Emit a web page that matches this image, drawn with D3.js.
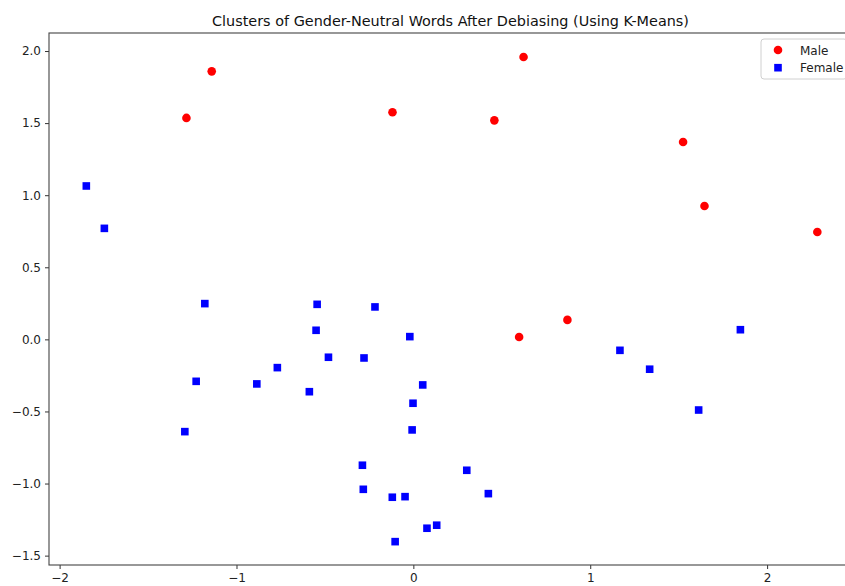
<!DOCTYPE html>
<html>
<head>
<meta charset="utf-8">
<script src="https://cdn.jsdelivr.net/npm/d3@7"></script>
<style>
  body { margin: 0; background: #fff; }
  svg { display: block; font-family: "DejaVu Sans", sans-serif; }
</style>
</head>
<body>
<div id="scatter"></div>
<script>
// Cluster points (after debiasing, K-Means)
var maleX = [-1.140, -1.283, -0.118, 0.458, 0.623, 1.525, 1.646, 2.284, 0.871, 0.598];
var maleY = [1.859, 1.536, 1.575, 1.519, 1.959, 1.369, 0.925, 0.745, 0.135, 0.016];

var femaleX = [-1.849, -1.747, -1.179, -0.544, -0.550, -0.480, -0.769, -1.228, -0.885, -0.588,
  -1.292, -0.217, -0.020, -0.279, 0.053, -0.002, -0.007, -0.288, -0.283, -0.119,
  -0.047, 0.302, 0.424, 0.077, 0.132, -0.103, 1.168, 1.336, 1.849, 1.613];
var femaleY = [1.064, 0.770, 0.248, 0.243, 0.063, -0.124, -0.196, -0.291, -0.309, -0.363,
  -0.640, 0.225, 0.019, -0.129, -0.316, -0.443, -0.628, -0.873, -1.040, -1.095,
  -1.091, -0.908, -1.070, -1.310, -1.289, -1.403, -0.076, -0.207, 0.067, -0.490];

var xTicks = [-2, -1, 0, 1, 2];
var yTicks = [-1.5, -1.0, -0.5, 0.0, 0.5, 1.0, 1.5, 2.0];
var legendLabels = ["Male", "Female"];
var chartTitle = "Clusters of Gender-Neutral Words After Debiasing (Using K-Means)";

// SVG area
var svgWidth = 845;
var svgHeight = 586;
var margin = { top: 33, right: -7, bottom: 21, left: 49 };
var chartWidth = svgWidth - margin.left - margin.right;
var chartHeight = svgHeight - margin.top - margin.bottom;

var svg = d3.select("#scatter")
  .append("svg")
  .attr("width", svgWidth)
  .attr("height", svgHeight);

var chartGroup = svg.append("g")
  .attr("transform", `translate(${margin.left}, ${margin.top})`);

// Scales
var xScale = d3.scaleLinear().domain([-2.06, 2.48]).range([0, chartWidth]);
var yScale = d3.scaleLinear().domain([-1.565, 2.125]).range([chartHeight, 0]);

// Axes
var bottomAxis = d3.axisBottom(xScale).tickValues(xTicks).tickFormat(d3.format("d"))
  .tickSize(4).tickPadding(4);
var leftAxis = d3.axisLeft(yScale).tickValues(yTicks).tickFormat(d3.format(".1f"))
  .tickSize(4).tickPadding(4);

var xAxisG = chartGroup.append("g")
  .attr("transform", `translate(0, ${chartHeight})`)
  .call(bottomAxis);
var yAxisG = chartGroup.append("g").call(leftAxis);

[xAxisG, yAxisG].forEach(function(g) {
  g.select(".domain").remove();
  g.selectAll(".tick line").attr("stroke", "#333").attr("stroke-width", 1);
  g.selectAll(".tick text")
    .attr("fill", "#222")
    .attr("font-size", 12)
    .attr("font-family", "DejaVu Sans, sans-serif");
});

// Spines
chartGroup.append("rect")
  .attr("x", 0)
  .attr("y", 0)
  .attr("width", chartWidth)
  .attr("height", chartHeight)
  .attr("fill", "none")
  .attr("stroke", "#444")
  .attr("stroke-width", 1.1);

// Male circles
var maleData = maleX.map((x, i) => ({ x: x, y: maleY[i] }));
var femaleData = femaleX.map((x, i) => ({ x: x, y: femaleY[i] }));

chartGroup.selectAll(".male")
  .data(maleData)
  .enter()
  .append("circle")
  .attr("class", "male")
  .attr("cx", d => xScale(d.x))
  .attr("cy", d => yScale(d.y))
  .attr("r", 4.3)
  .attr("fill", "#ff0000");

// Female squares
var sq = 7.6;
chartGroup.selectAll(".female")
  .data(femaleData)
  .enter()
  .append("rect")
  .attr("class", "female")
  .attr("x", d => xScale(d.x) - sq / 2)
  .attr("y", d => yScale(d.y) - sq / 2)
  .attr("width", sq)
  .attr("height", sq)
  .attr("fill", "#0000ff");

// Title
svg.append("text")
  .attr("x", margin.left + chartWidth / 2)
  .attr("y", 26)
  .attr("text-anchor", "middle")
  .attr("font-size", 14.4)
  .attr("fill", "#111")
  .text(chartTitle);

// Legend
var legend = svg.append("g").attr("transform", "translate(761, 39)");
legend.append("rect")
  .attr("width", 86)
  .attr("height", 40)
  .attr("rx", 3)
  .attr("fill", "#fff")
  .attr("fill-opacity", 0.8)
  .attr("stroke", "#d0d0d0");

legend.append("circle").attr("cx", 17).attr("cy", 11).attr("r", 4.3).attr("fill", "#ff0000");
legend.append("rect").attr("x", 17 - sq / 2).attr("y", 28.7 - sq / 2)
  .attr("width", sq).attr("height", sq).attr("fill", "#0000ff");

legend.selectAll(".label")
  .data(legendLabels)
  .enter()
  .append("text")
  .attr("class", "label")
  .attr("x", 39)
  .attr("y", (d, i) => 15.5 + i * 17.7)
  .attr("font-size", 12)
  .attr("fill", "#222")
  .text(d => d);
</script>
</body>
</html>
